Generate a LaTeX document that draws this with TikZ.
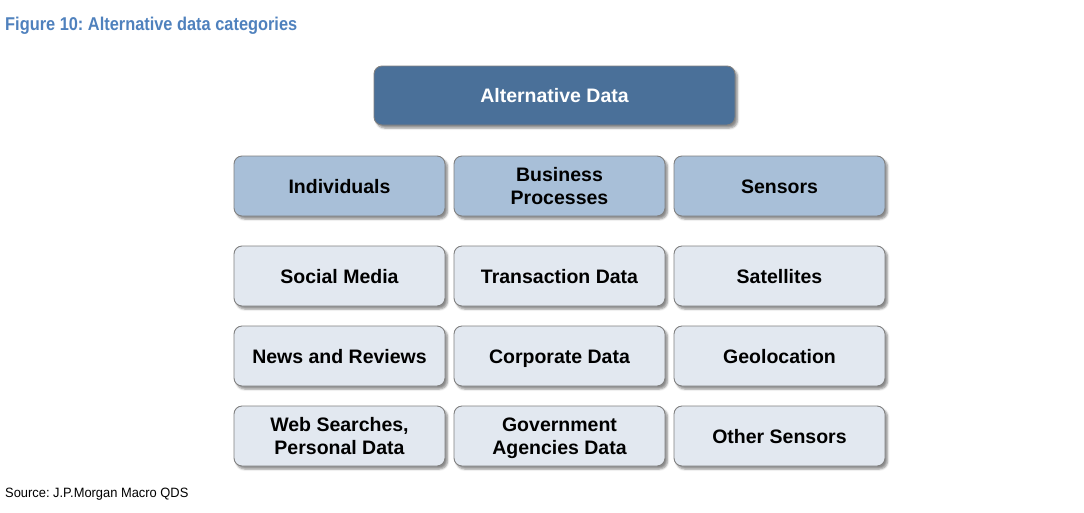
\documentclass[tikz,border=0pt]{standalone}
\usepackage{fontspec}
\setmainfont{Liberation Sans}
\newfontfamily\titlefont{Liberation Sans}[FakeStretch=0.885]
\newfontfamily\notefont{Liberation Sans}[FakeStretch=0.955]
\usetikzlibrary{shadows.blur}
\frenchspacing
\definecolor{titleblue}{RGB}{79,129,189}
\definecolor{rootfill}{RGB}{74,112,153}
\definecolor{catfill}{RGB}{168,191,216}
\definecolor{itemfill}{RGB}{226,232,240}
\definecolor{edgegray}{RGB}{128,128,128}
% line strut: keeps every label line centred on its capitals, whatever its descenders
\newcommand\ls{\rule[-5pt]{0pt}{24pt}}
% two-line label, set a little lower so the pair sits centred on its capitals
\newcommand\twolines[2]{\rule{0pt}{32pt}\begin{tabular}{@{}c@{}}#1\\#2\end{tabular}}
\tikzset{
  box/.style={draw=edgegray, line width=0.9pt, rounded corners=8pt,
    minimum width=211pt, minimum height=60pt, align=center,
    font=\fontsize{19.5}{23}\selectfont\bfseries,
    execute at begin node=\ls,
    blur shadow={shadow xshift=2.5pt, shadow yshift=-3pt, shadow blur steps=5,
      shadow blur extra rounding=1.5pt, shadow opacity=45}},
  rootbox/.style={box, fill=rootfill, text=white, minimum width=361pt, minimum height=59pt},
  catbox/.style={box, fill=catfill},
  itembox/.style={box, fill=itemfill},
}
\begin{document}
\begin{tikzpicture}[x=1pt, y=-1pt]
  \useasboundingbox (0,0) rectangle (1084,512);
  % heading and source line
  \node[anchor=base west, inner sep=0, text=titleblue,
        font=\titlefont\fontsize{18.5}{22}\selectfont\bfseries] (title) at (5,30)
        {Figure 10: Alternative data categories};
  \node[anchor=base west, inner sep=0,
        font=\notefont\fontsize{13.5}{16}\selectfont] (source) at (5,497)
        {Source: J.P.Morgan Macro QDS};
  % root
  \node[rootbox] (root) at (554.5,95.5) {Alternative Data};
  % categories
  \node[catbox] (ind) at (339.5,186) {Individuals};
  \node[catbox] (bus) at (559.5,186) {\twolines{Business}{Processes}};
  \node[catbox] (sen) at (779.5,186) {Sensors};
  % data sources
  \node[itembox] (soc) at (339.5,276) {Social Media};
  \node[itembox] (tra) at (559.5,276) {Transaction Data};
  \node[itembox] (sat) at (779.5,276) {Satellites};
  \node[itembox] (new) at (339.5,356) {News and Reviews};
  \node[itembox] (cor) at (559.5,356) {Corporate Data};
  \node[itembox] (geo) at (779.5,356) {Geolocation};
  \node[itembox] (web) at (339.5,436) {\twolines{Web Searches,}{Personal Data}};
  \node[itembox] (gov) at (559.5,436) {\twolines{Government}{Agencies Data}};
  \node[itembox] (oth) at (779.5,436) {Other Sensors};
\end{tikzpicture}
\end{document}
